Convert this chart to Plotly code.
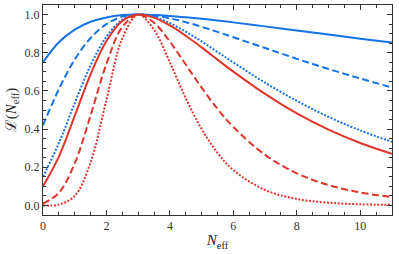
import plotly.graph_objects as go

# N_eff sample positions
n_eff = [0, 0.5, 1, 1.5, 2, 2.5, 3, 3.5, 4, 4.5, 5, 5.5, 6, 7, 8, 9, 10, 11]

# Likelihood values
blue_solid  = [0.750, 0.855, 0.921, 0.962, 0.985, 0.997, 1.0, 0.998, 0.993, 0.986, 0.978, 0.969, 0.959, 0.938, 0.916, 0.895, 0.873, 0.853]
blue_dashed = [0.420, 0.609, 0.764, 0.877, 0.950, 0.989, 1.0, 0.994, 0.980, 0.960, 0.936, 0.909, 0.881, 0.825, 0.768, 0.715, 0.665, 0.618]
blue_dotted = [0.150, 0.326, 0.536, 0.734, 0.884, 0.973, 1.0, 0.987, 0.955, 0.910, 0.859, 0.804, 0.749, 0.643, 0.548, 0.464, 0.393, 0.333]
red_solid   = [0.100, 0.256, 0.469, 0.687, 0.861, 0.967, 1.0, 0.984, 0.943, 0.889, 0.828, 0.764, 0.701, 0.584, 0.482, 0.397, 0.327, 0.270]
red_dashed  = [0.010, 0.066, 0.220, 0.472, 0.742, 0.935, 1.0, 0.957, 0.858, 0.738, 0.617, 0.506, 0.411, 0.265, 0.168, 0.107, 0.068, 0.044]
red_dotted  = [0.000, 0.0045, 0.050, 0.225, 0.553, 0.875, 1.0, 0.920, 0.748, 0.562, 0.400, 0.276, 0.185, 0.081, 0.034, 0.0145, 0.006, 0.003]

x_ticks = [0, 2, 4, 6, 8, 10]
y_ticks = [0.0, 0.2, 0.4, 0.6, 0.8, 1.0]
y_tick_labels = ["0.0", "0.2", "0.4", "0.6", "0.8", "1.0"]

BLUE = "#1673e6"
RED = "#e0352b"

series = [
    (blue_solid, BLUE, "solid"),
    (blue_dashed, BLUE, "7px,3.5px"),
    (blue_dotted, BLUE, "2px,1.6px"),
    (red_solid, RED, "solid"),
    (red_dashed, RED, "7px,3.5px"),
    (red_dotted, RED, "2px,1.6px"),
]

fig = go.Figure()
for ys, col, dash in series:
    fig.add_trace(go.Scatter(
        x=n_eff, y=ys, mode="lines",
        line=dict(color=col, width=2, dash=dash, shape="spline", smoothing=1.0),
        showlegend=False, hoverinfo="skip",
    ))

FONT = "Liberation Serif, DejaVu Serif, serif"
axis_common = dict(
    showline=True, linecolor="#333", linewidth=1, mirror="allticks",
    ticks="inside", ticklen=5, tickwidth=1, tickcolor="#333",
    showgrid=False, zeroline=False, automargin=False,
    tickfont=dict(family=FONT, size=12, color="#333"),
)

fig.update_xaxes(
    range=[0, 11], tickvals=x_ticks,
    minor=dict(ticks="inside", ticklen=3, tickwidth=1, tickcolor="#333", dtick=0.5, showgrid=False),
    title=dict(text="<i>N</i><sub>eff</sub>", font=dict(family=FONT, size=15, color="#222"), standoff=2),
    **axis_common,
)
fig.update_yaxes(
    range=[-0.05, 1.05], tickvals=y_ticks, ticktext=y_tick_labels,
    minor=dict(ticks="inside", ticklen=3, tickwidth=1, tickcolor="#333", dtick=0.05, showgrid=False),
    title=dict(text="ℒ(<i>N</i><sub>eff</sub>)", font=dict(family=FONT, size=15, color="#222"), standoff=4),
    **axis_common,
)

fig.update_layout(
    width=399, height=254,
    margin=dict(l=43, r=7, t=5, b=39),
    paper_bgcolor="white", plot_bgcolor="white",
)

fig.write_html("out.html", config={"displayModeBar": False},
               post_script="document.body.style.margin='0';")
